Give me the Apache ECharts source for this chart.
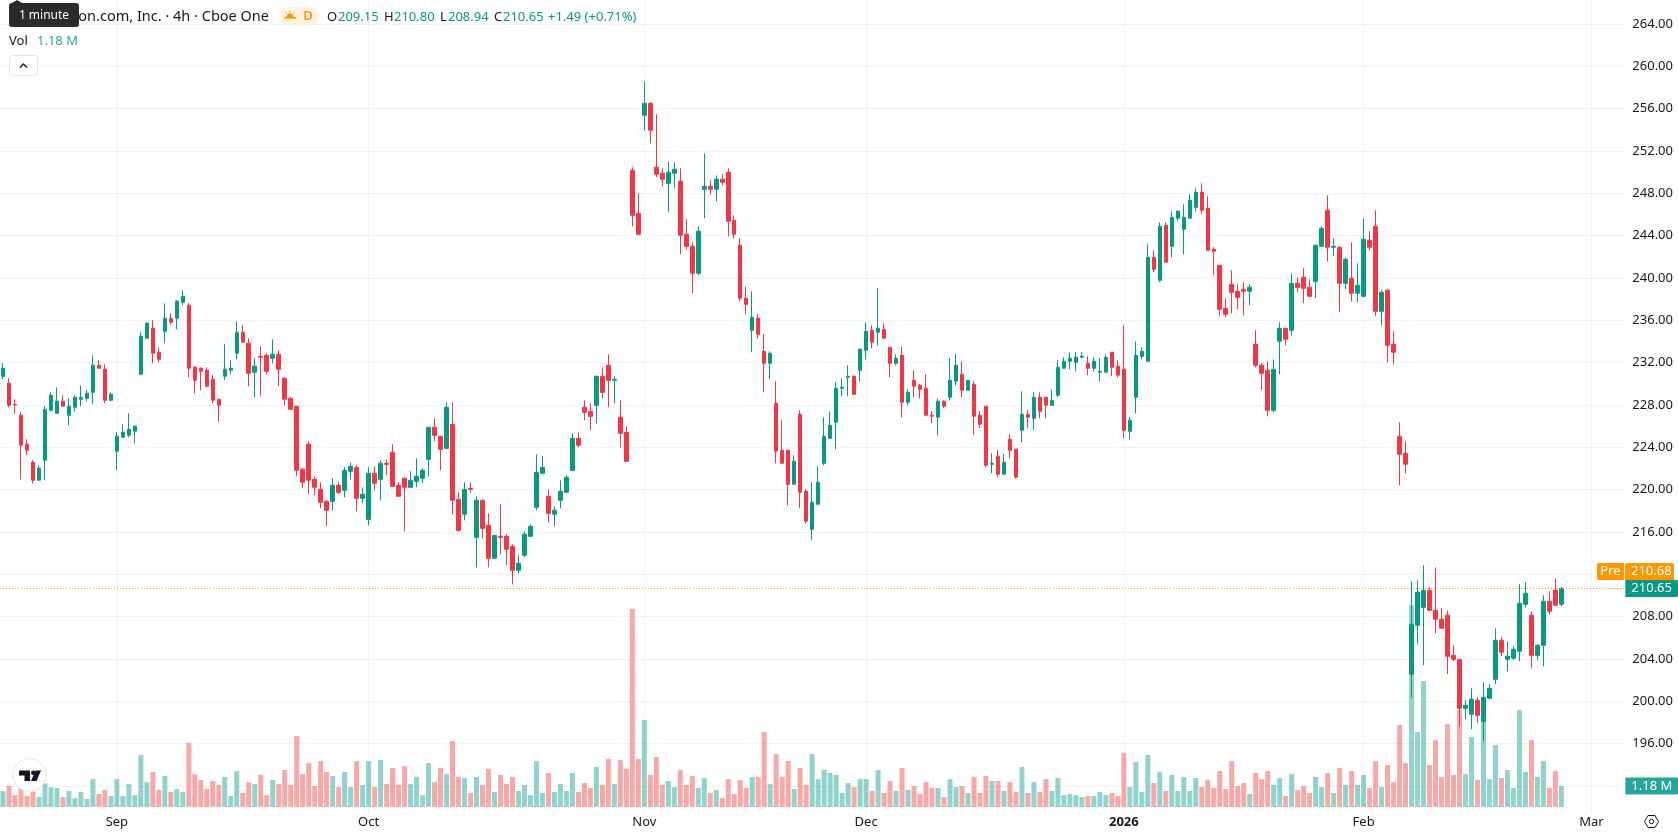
<!DOCTYPE html>
<html>
<head>
<meta charset="utf-8">
<title>Amazon.com, Inc. 4h</title>
<script src="https://cdn.jsdelivr.net/npm/echarts@6/dist/echarts.min.js"></script>
<style>
html,body{margin:0;padding:0;background:#fff;overflow:hidden}
#chart{width:1678px;height:835px}
</style>
</head>
<body>
<div id="chart"></div>
<script>
// 4-hour OHLC bars, oldest first
const opens = [
230.70,230.04,228.06,227.02,224.28,222.58,220.88,222.77,227.49,227.21,
228.34,227.02,227.77,228.53,228.62,229.19,231.74,231.36,228.43,223.62,
224.94,225.13,225.51,230.89,234.29,235.24,232.97,234.95,236.18,236.18,
237.69,237.41,231.55,231.46,231.27,230.42,228.53,230.70,231.27,232.87,
234.86,233.82,231.08,232.59,232.68,232.40,232.78,230.51,228.62,227.87,
221.92,224.28,220.97,220.03,218.89,218.88,220.40,219.92,221.72,222.10,
219.17,217.18,221.53,220.96,222.47,223.51,220.40,221.06,220.21,220.77,
221.06,222.85,225.88,225.03,223.89,226.16,219.07,217.66,220.11,215.48,
218.98,216.62,213.50,215.58,215.58,214.63,212.37,213.78,215.58,218.32,
221.53,219.36,217.66,218.98,219.73,221.81,224.84,227.77,227.39,227.95,
230.69,231.73,230.32,226.82,225.40,250.16,246.10,255.36,256.49,250.45,
249.88,248.93,249.88,249.12,244.12,242.98,240.43,248.37,248.65,248.37,
249.31,249.97,245.44,243.08,238.07,235.05,236.18,233.06,231.93,228.15,
223.71,223.71,220.50,227.11,219.84,216.25,218.61,222.48,224.84,226.36,
229.57,230.61,230.70,231.27,233.16,235.05,234.86,235.14,233.44,231.93,
232.68,228.24,230.32,229.85,229.57,227.02,226.83,228.34,228.72,230.23,
230.89,229.38,229.95,227.02,227.87,222.39,223.14,221.44,224.75,223.80,
225.60,227.11,226.73,228.72,228.72,227.96,228.91,231.46,232.12,232.02,
232.50,231.93,231.46,231.08,231.08,232.97,231.65,231.36,225.50,228.72,
232.59,232.12,241.94,239.77,244.96,242.98,245.63,244.59,245.63,246.66,
248.08,246.57,242.70,241.19,237.12,239.39,238.73,238.92,238.73,233.72,
231.74,231.27,227.49,234.00,235.23,235.04,239.48,240.05,239.11,239.67,
242.98,246.38,242.89,242.89,239.48,239.96,238.54,238.26,243.55,244.87,
236.84,238.82,233.72,225.03,223.43,202.55,207.17,208.87,210.48,208.59,
207.74,208.12,204.34,203.96,199.33,198.77,200.09,198.10,200.28,202.07,
205.76,203.96,204.06,204.72,209.16,208.12,204.34,205.28,209.44,210.48,209.15];

const highs = [
231.93,230.51,228.53,227.30,224.75,222.77,222.29,227.87,229.19,229.66,
228.91,228.62,228.91,229.85,229.38,232.68,232.21,231.83,229.19,225.41,
226.17,227.21,226.07,234.86,235.80,235.99,233.44,237.60,236.65,237.88,
238.83,237.60,231.65,231.55,231.55,230.80,228.53,233.72,232.21,235.90,
235.52,234.29,232.40,233.53,232.87,234.20,233.16,230.61,228.72,227.87,
222.01,224.56,221.25,220.69,218.99,221.06,220.68,222.10,222.57,222.29,
220.21,222.10,222.19,222.76,222.85,224.27,220.68,221.15,221.72,222.95,
222.00,225.88,226.73,225.03,228.24,228.24,219.74,220.68,220.68,219.36,
219.07,217.75,215.67,218.60,215.77,214.82,213.78,216.05,216.71,223.32,
223.14,220.02,218.41,220.87,221.34,225.31,225.40,228.43,228.14,230.79,
231.54,232.77,230.69,228.43,225.97,250.45,247.99,258.57,256.59,255.45,
250.35,251.01,250.92,250.35,245.53,243.36,244.87,251.77,249.22,249.69,
249.79,250.35,245.91,243.74,239.20,238.73,236.56,234.67,233.06,230.23,
226.54,223.71,223.24,227.49,220.03,220.69,222.20,226.83,227.39,230.13,
230.51,231.74,230.80,233.35,235.80,235.52,239.01,235.71,233.44,232.78,
233.53,229.47,231.27,229.95,230.89,227.39,228.62,228.43,232.40,232.78,
232.12,230.32,230.23,227.39,227.87,223.43,223.71,223.33,225.22,223.80,
229.28,227.49,229.19,229.19,228.72,229.47,232.21,232.50,232.97,232.97,
232.97,232.59,232.50,232.40,232.78,232.97,232.21,235.52,226.83,234.01,
233.44,243.17,242.60,245.25,245.25,246.29,246.38,246.95,247.89,248.46,
248.93,247.70,242.89,241.19,238.07,240.71,239.39,239.58,239.39,235.05,
231.93,232.12,232.30,235.80,235.23,240.43,240.05,240.92,239.86,243.17,
244.87,247.80,243.74,242.98,241.94,243.36,241.37,245.63,244.40,246.38,
238.82,238.92,234.95,226.35,224.56,211.33,211.43,212.84,210.76,212.65,
208.78,208.59,205.28,203.96,200.09,201.22,200.37,201.79,201.60,206.89,
206.04,205.66,205.19,211.05,211.24,208.50,205.38,210.01,210.39,211.61,210.80];

const lows = [
230.42,227.77,227.11,220.97,223.24,220.59,220.88,220.88,227.39,227.21,
227.87,226.07,227.39,227.87,228.34,228.06,231.46,228.15,228.34,221.82,
224.94,224.94,224.37,230.80,234.29,231.93,232.02,233.82,235.61,235.14,
237.41,230.61,229.10,229.38,229.66,228.15,226.36,230.32,230.89,232.31,
233.91,229.76,228.72,228.81,230.89,231.93,229.76,227.96,227.58,221.25,
220.12,219.55,219.46,218.23,216.53,218.04,219.55,219.26,220.96,217.94,
218.70,216.62,219.92,218.98,221.34,220.30,219.36,216.05,220.21,220.21,
220.59,221.25,224.55,221.81,223.80,217.66,216.05,217.09,219.73,212.65,
215.39,212.65,213.50,213.88,212.84,211.04,212.08,213.59,215.58,218.04,
221.53,216.90,216.52,218.22,219.73,221.81,223.99,226.54,225.59,226.25,
228.62,227.77,228.14,223.99,222.66,244.87,244.02,253.94,252.71,249.50,
248.65,246.20,248.46,242.23,242.70,238.54,240.24,245.63,247.90,247.23,
248.75,243.93,243.74,237.79,236.56,232.97,234.29,229.19,230.42,222.48,
222.48,218.52,220.50,218.23,216.81,215.21,218.61,222.29,224.75,223.80,
228.81,228.81,228.91,230.23,232.31,233.35,233.63,234.29,230.61,231.74,
226.83,227.96,228.72,228.62,227.02,226.26,225.13,227.68,228.43,229.85,
228.72,229.38,225.13,225.79,222.10,221.54,221.16,221.44,222.95,221.06,
224.47,225.79,225.60,226.73,226.73,227.96,228.72,231.46,231.36,231.17,
232.40,230.80,231.17,230.23,231.08,230.70,230.61,224.84,224.75,227.20,
232.30,232.12,240.52,239.58,241.47,241.94,245.34,242.23,245.63,246.29,
246.00,242.60,240.24,236.37,236.27,236.65,237.03,236.46,237.41,231.55,
229.38,226.92,227.30,230.89,233.63,234.57,238.63,237.60,238.16,238.07,
242.98,241.56,242.04,236.75,238.92,237.78,237.69,238.16,242.60,236.37,
235.52,232.02,231.83,220.40,221.54,200.37,205.38,203.40,208.50,206.42,
206.89,202.55,203.77,197.63,198.30,197.35,197.92,196.20,200.18,201.60,
204.25,202.83,203.87,203.77,208.87,203.11,203.87,203.30,208.21,209.06,208.94];

const closes = [
231.46,227.96,227.99,224.18,223.71,220.88,222.01,227.58,228.91,228.34,
227.87,227.87,228.72,228.72,229.09,231.74,231.46,228.43,229.00,225.03,
225.41,225.69,225.98,234.48,235.71,232.87,232.31,236.18,235.80,237.79,
238.26,231.46,230.32,231.17,229.76,228.43,227.96,231.36,231.46,234.86,
233.91,230.98,231.65,232.50,231.17,232.78,231.36,228.53,227.58,221.82,
220.69,220.88,220.21,218.80,218.04,220.40,219.73,221.81,222.19,219.17,
219.55,221.53,220.59,222.47,222.38,220.30,219.36,220.21,220.87,221.25,
221.81,225.88,225.12,223.80,227.77,218.98,216.14,220.02,220.02,218.98,
216.33,213.50,215.67,215.48,214.35,212.37,213.03,215.77,216.52,221.62,
222.10,217.75,218.04,219.83,221.15,224.84,224.18,227.29,226.91,230.69,
229.18,230.32,230.41,225.31,222.66,245.91,244.12,256.49,253.94,249.79,
249.31,249.97,250.26,244.02,242.98,240.43,244.40,248.65,248.37,249.31,
249.03,245.34,244.12,238.07,237.50,236.28,234.67,231.93,232.87,223.62,
222.48,220.50,222.67,219.74,217.00,218.80,220.69,225.03,226.07,229.57,
229.66,230.70,229.00,233.25,234.95,233.91,235.24,234.29,231.93,232.40,
228.24,229.19,229.76,229.47,227.02,226.92,228.34,227.87,230.32,231.74,
229.38,230.32,226.92,226.17,222.29,222.48,221.44,222.58,223.71,221.16,
227.11,226.83,228.72,227.39,227.96,228.43,231.55,232.12,232.40,232.50,
232.59,231.46,232.12,231.17,232.50,231.55,230.80,225.60,226.54,232.68,
233.06,241.94,240.81,244.87,241.47,245.72,246.29,245.72,247.33,248.08,
246.38,242.60,242.51,237.03,236.56,238.63,238.16,238.73,239.11,231.74,
230.98,227.49,231.36,235.23,234.19,239.48,239.11,239.01,238.26,243.07,
244.68,242.89,242.98,239.48,241.75,238.54,239.30,243.64,242.89,236.84,
238.63,233.63,232.97,223.33,222.39,207.27,210.29,210.48,208.59,207.74,
206.89,204.25,203.96,199.33,199.62,200.18,198.67,200.37,201.22,205.76,
204.62,204.25,204.91,209.25,210.20,204.34,205.28,209.44,208.50,209.06,210.65];

// Traded volume per bar, in millions of shares
const volumes = [
0.90,1.18,0.67,1.12,0.62,0.86,0.56,1.33,1.12,1.07,
0.56,0.90,0.51,0.84,0.45,1.57,0.73,0.96,0.62,1.57,
0.62,1.29,0.67,2.92,1.40,1.97,0.96,1.74,0.84,1.01,
0.84,3.60,1.85,1.52,1.01,1.46,1.24,1.69,0.62,2.02,
0.79,1.40,1.29,1.80,0.67,1.52,1.29,2.08,1.24,3.99,
1.85,2.47,1.18,2.58,1.97,1.74,1.12,1.97,1.12,2.58,
1.24,2.58,1.12,2.64,1.29,2.19,1.24,2.30,1.29,1.69,
0.67,2.47,1.40,2.19,1.85,3.71,1.69,1.63,0.79,1.69,
1.24,2.14,0.84,1.80,1.29,1.69,0.90,1.24,0.67,2.58,
0.79,1.91,0.84,1.29,0.90,1.91,0.84,1.35,1.07,2.25,
1.24,2.70,1.29,2.64,2.14,11.13,2.70,4.89,1.80,2.81,
1.24,1.46,1.12,2.08,1.24,1.74,1.07,1.63,0.79,0.96,
0.51,1.57,0.73,1.52,1.07,1.69,1.69,4.21,1.29,2.98,
1.69,2.58,1.01,2.19,1.24,2.98,1.57,2.08,1.91,1.80,
0.79,1.35,1.12,1.57,1.57,0.90,2.08,0.79,1.46,0.90,
2.19,0.96,1.18,0.73,1.40,1.07,1.07,0.56,1.57,1.12,
1.18,0.79,1.69,0.79,1.74,1.46,1.46,0.90,1.40,0.84,
2.25,0.79,1.40,0.84,1.57,0.90,1.63,0.67,0.73,0.67,
0.56,0.62,0.62,0.84,0.67,0.79,0.62,3.03,1.12,2.53,
0.84,2.92,1.35,1.97,0.90,1.80,0.90,1.69,0.90,1.63,
1.12,1.52,1.07,2.02,1.01,2.58,1.18,1.35,0.73,1.91,
1.57,2.02,1.24,1.63,0.62,1.85,0.96,1.18,0.79,1.69,
1.12,1.91,0.79,2.19,1.24,2.02,1.24,1.80,1.07,2.58,
1.12,2.36,1.40,4.61,2.47,11.35,4.21,7.08,2.36,3.76,
1.69,4.66,1.80,5.45,1.85,3.93,1.52,4.83,1.57,3.48,
1.63,2.08,1.07,5.45,1.97,3.76,1.69,2.58,1.07,2.02,1.18];

// Time axis: month starts given as bar slots; the axis runs past the last bar
const slotCount = 271;
const monthSlots = [19, 61, 107, 144, 187, 227, 265];
const monthNames = ['Sep', 'Oct', 'Nov', 'Dec', '2026', 'Feb', 'Mar'];

// Last-value annotations
const lastClose = 210.65;
const preMarket = 210.68;
const lastVolume = 1.18;
const ohlcReadout = ['209.15', '210.80', '208.94', '210.65', '+1.49 (+0.71%)'];

const UP = '#089981', DOWN = '#f23645';
const VOL_UP = 'rgba(38,166,154,0.5)', VOL_DOWN = 'rgba(239,83,80,0.5)';
const GRID = '#f2f2f3', INK = '#131722', FONT = '"Noto Sans", sans-serif';

const slots = Array.from({length: slotCount}, (_, i) => String(i));
const candleData = opens.map((o, i) => [o, closes[i], lows[i], highs[i]]);
const volumeData = volumes.map((v, i) => ({
  value: v,
  itemStyle: {color: closes[i] >= opens[i] ? VOL_UP : VOL_DOWN}
}));
const isMonthSlot = i => monthSlots.indexOf(i) >= 0;

const plotLeft = -1.67, plotWidth = 1626;
const hiddenX = gridIndex => ({
  type: 'category', gridIndex, data: slots, show: false, boundaryGap: true
});

const text = (x, y, value, fill, extra) => Object.assign({
  type: 'text', x, y, z: 50, silent: true,
  style: Object.assign({text: value, fill, font: '13px ' + FONT, textVerticalAlign: 'middle'}, extra || {})
});

const chart = echarts.init(document.getElementById('chart'), null, {renderer: 'canvas'});
chart.setOption({
  animation: false,
  backgroundColor: '#ffffff',
  textStyle: {fontFamily: FONT},
  grid: [
    {left: plotLeft, width: plotWidth, top: 23.8, height: 762.1},
    {left: plotLeft, width: plotWidth, top: 0, height: 807},
    {left: plotLeft, width: plotWidth, top: 0, height: 813}
  ],
  xAxis: [
    hiddenX(0),
    hiddenX(1),
    {
      type: 'category', gridIndex: 2, data: slots, boundaryGap: true,
      axisLine: {show: false},
      axisTick: {show: false},
      splitLine: {show: true, alignWithLabel: true, interval: i => isMonthSlot(i), lineStyle: {color: GRID, width: 1}},
      axisLabel: {
        interval: i => isMonthSlot(i),
        hideOverlap: false,
        margin: 3,
        fontSize: 13,
        color: INK,
        formatter: (v, i) => {
          const n = monthNames[monthSlots.indexOf(i)];
          return n === '2026' ? '{year|' + n + '}' : n;
        },
        rich: {year: {fontWeight: 'bold', fontSize: 13, color: INK}}
      }
    }
  ],
  yAxis: [
    {
      type: 'value', gridIndex: 0, position: 'right', min: 192, max: 264, interval: 4,
      axisLine: {show: false}, axisTick: {show: false},
      splitLine: {lineStyle: {color: GRID, width: 1}},
      axisLabel: {
        margin: 8, fontSize: 13, color: INK,
        // 192 and 212 sit under the last-value tags
        formatter: v => (v === 192 || v === 212) ? '' : v.toFixed(2)
      }
    },
    {type: 'value', gridIndex: 1, min: 0, max: 45.34, show: false},
    {type: 'value', gridIndex: 2, show: false}
  ],
  series: [
    {
      name: 'Vol', type: 'bar', xAxisIndex: 1, yAxisIndex: 1, z: 2,
      barWidth: 5, data: volumeData, silent: true,
      markLine: {
        silent: true, symbol: 'none', animation: false,
        lineStyle: {color: 'rgba(0,0,0,0)'},
        data: [{yAxis: lastVolume}],
        label: {
          show: true, position: 'end', distance: 1, formatter: lastVolume.toFixed(2) + ' M',
          color: '#fff', backgroundColor: '#26a69a', fontSize: 13, lineHeight: 17,
          padding: [0, 6, 0, 6], borderRadius: [0, 2, 2, 0], opacity: 1
        }
      }
    },
    {
      name: 'AMZN', type: 'candlestick', xAxisIndex: 0, yAxisIndex: 0, z: 3,
      barWidth: 4, data: candleData, silent: true, clip: false,
      itemStyle: {color: UP, color0: DOWN, borderColor: UP, borderColor0: DOWN, borderWidth: 1},
      markLine: {
        silent: true, symbol: 'none', animation: false,
        lineStyle: {color: '#ff9800', type: [1, 2], width: 1},
        data: [{yAxis: lastClose}],
        label: {
          position: 'end', distance: 1, formatter: lastClose.toFixed(2),
          color: '#fff', backgroundColor: UP, fontSize: 13, lineHeight: 17,
          padding: [0, 6, 0, 6], borderRadius: [0, 0, 2, 0]
        }
      }
    }
  ],
  graphic: [
    // legend line
    text(269, 17, 'Amazon.com, Inc. · 4h · Cboe One', INK, {textAlign: 'right', font: '14.5px ' + FONT}),
    {type: 'rect', z: 50, silent: true, shape: {x: 279, y: 7, width: 40, height: 18, r: 9}, style: {fill: '#fff3e0'}},
    {type: 'sector', z: 51, silent: true, shape: {cx: 290, cy: 17, r: 3.5, startAngle: Math.PI, endAngle: 2 * Math.PI}, style: {fill: '#ff9800'}},
    {type: 'rect', z: 51, silent: true, shape: {x: 284, y: 17, width: 12, height: 1.6}, style: {fill: '#ff9800'}},
    {type: 'line', z: 51, silent: true, shape: {x1: 290, y1: 11, x2: 290, y2: 12.4}, style: {stroke: '#ff9800', lineWidth: 1}},
    {type: 'line', z: 51, silent: true, shape: {x1: 285.5, y1: 12.5, x2: 286.5, y2: 13.5}, style: {stroke: '#ff9800', lineWidth: 1}},
    {type: 'line', z: 51, silent: true, shape: {x1: 294.5, y1: 12.5, x2: 293.5, y2: 13.5}, style: {stroke: '#ff9800', lineWidth: 1}},
    text(308, 16.5, 'D', '#ff9800', {textAlign: 'center', font: '600 13px ' + FONT}),
    text(327, 17, 'O', INK),
    text(338, 17, ohlcReadout[0], UP),
    text(384, 17, 'H', INK),
    text(394, 17, ohlcReadout[1], UP),
    text(440, 17, 'L', INK),
    text(448, 17, ohlcReadout[2], UP),
    text(494, 17, 'C', INK),
    text(503, 17, ohlcReadout[3], UP),
    text(548, 17, ohlcReadout[4], UP),
    text(9, 41, 'Vol', INK),
    text(37, 41, lastVolume.toFixed(2) + ' M', '#26a69a'),
    // collapse button
    {type: 'rect', z: 50, silent: true, shape: {x: 9.5, y: 55.5, width: 28, height: 20, r: 3}, style: {fill: '#fff', stroke: '#e0e3eb', lineWidth: 1}},
    {type: 'polyline', z: 51, silent: true, shape: {points: [[20, 67.5], [23.5, 64], [27, 67.5]]}, style: {fill: 'none', stroke: INK, lineWidth: 1.4}},
    // hover hint over the legend
    {type: 'rect', z: 60, silent: true, shape: {x: 9, y: 3, width: 70, height: 24, r: 3}, style: {fill: '#2a2a2a'}},
    {type: 'polygon', z: 60, silent: true, shape: {points: [[12, 3], [17, 0], [22, 3]]}, style: {fill: '#2a2a2a'}},
    Object.assign(text(44, 16, '1 minute', '#ffffff', {textAlign: 'center', font: '12px ' + FONT}), {z: 61}),
    // pre-market tag
    {type: 'rect', z: 70, silent: true, shape: {x: 1597, y: 563, width: 27, height: 17, r: [2, 0, 0, 2]}, style: {fill: '#ff9800'}},
    {type: 'rect', z: 70, silent: true, shape: {x: 1625, y: 563, width: 49, height: 17, r: [2, 2, 0, 0]}, style: {fill: '#ff9800'}},
    Object.assign(text(1610.5, 571.5, 'Pre', '#ffffff', {textAlign: 'center', font: '13px ' + FONT}), {z: 71}),
    Object.assign(text(1631, 571.5, preMarket.toFixed(2), '#ffffff', {font: '13px ' + FONT}), {z: 71}),
    // watermark logo
    {type: 'circle', z: 40, silent: true, shape: {cx: 29.5, cy: 775, r: 16.5}, style: {fill: '#fff', stroke: '#e6e6e6', lineWidth: 1}},
    {type: 'polygon', z: 41, silent: true, shape: {points: [[19, 770.5], [30, 770.5], [30, 781], [24.5, 781], [24.5, 775.5], [19, 775.5]]}, style: {fill: '#131722'}},
    {type: 'circle', z: 41, silent: true, shape: {cx: 33.2, cy: 772.7, r: 2.2}, style: {fill: '#131722'}},
    {type: 'polygon', z: 41, silent: true, shape: {points: [[35.5, 770.5], [41, 770.5], [36.5, 781], [31, 781]]}, style: {fill: '#131722'}},
    // scale settings glyph
    {type: 'polygon', z: 50, silent: true, shape: {points: [[1644.5, 821.5], [1648, 815.5], [1655, 815.5], [1658.5, 821.5], [1655, 827.5], [1648, 827.5]]}, style: {fill: 'none', stroke: INK, lineWidth: 1}},
    {type: 'circle', z: 50, silent: true, shape: {cx: 1651.5, cy: 821.5, r: 2.2}, style: {fill: 'none', stroke: INK, lineWidth: 1}}
  ]
});
</script>
</body>
</html>
